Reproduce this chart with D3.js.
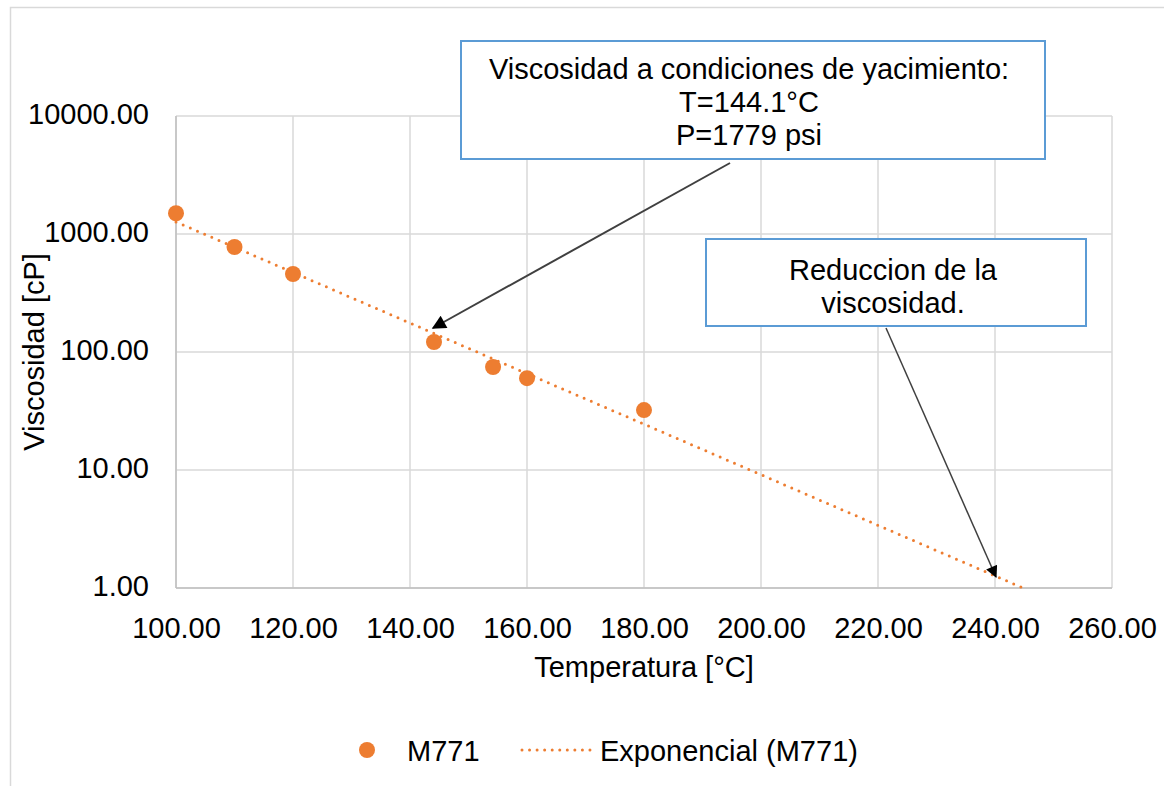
<!DOCTYPE html>
<html><head><meta charset="utf-8">
<script src="https://cdn.jsdelivr.net/npm/d3@7"></script>
<style>body{margin:0;background:#fff}svg{display:block;font-family:"Liberation Sans",Arial,sans-serif}</style>
</head><body><svg id="c" width="1164" height="786"></svg>
<script>
const temps = [100, 110, 120, 144.1, 154.2, 160, 180];
const viscosity = [1500, 776, 458, 121.5, 74.6, 60, 32.2];
const xTicks = [100, 120, 140, 160, 180, 200, 220, 240, 260];
const yTicks = [1, 10, 100, 1000, 10000];
const seriesName = "M771";
const trendName = "Exponencial (M771)";
const xTitle = "Temperatura [°C]";
const yTitle = "Viscosidad [cP]";
const note1 = ["Viscosidad a condiciones de yacimiento:", "T=144.1°C", "P=1779 psi"];
const note2 = ["Reduccion de la", "viscosidad."];

const FS = 29;
const svg = d3.select("#c");
const W = 1164, H = 786;
const m = {l:176, r:1112, t:116, b:588};
const x = d3.scaleLinear().domain([100,260]).range([m.l,m.r]);
const y = d3.scaleLog().domain([1,10000]).range([m.b,m.t]);
const orange = "#ed7d31";

svg.append("rect").attr("x",10.5).attr("y",7.5).attr("width",W+20).attr("height",H+20)
  .attr("fill","#fff").attr("stroke","#d9d9d9").attr("stroke-width",1.5);

// gridlines
const g = svg.append("g");
g.selectAll(".vg").data(xTicks).join("line")
  .attr("x1",d=>x(d)).attr("x2",d=>x(d)).attr("y1",m.t).attr("y2",m.b)
  .attr("stroke","#d9d9d9").attr("stroke-width",1.5);
g.selectAll(".hg").data(yTicks).join("line")
  .attr("x1",m.l).attr("x2",m.r).attr("y1",d=>y(d)).attr("y2",d=>y(d))
  .attr("stroke","#d9d9d9").attr("stroke-width",1.5);
svg.append("line").attr("x1",m.l).attr("x2",m.r).attr("y1",m.b).attr("y2",m.b).attr("stroke","#bfbfbf").attr("stroke-width",1.5);
svg.append("line").attr("x1",m.l).attr("x2",m.l).attr("y1",m.t).attr("y2",m.b).attr("stroke","#bfbfbf").attr("stroke-width",1.5);

// axes
const xAxis = svg.append("g").attr("transform",`translate(0,${m.b})`)
  .call(d3.axisBottom(x).tickValues(xTicks).tickFormat(d3.format(".2f")).tickSize(0).tickPadding(0));
xAxis.select(".domain").remove();
xAxis.selectAll("text").attr("font-size",FS).attr("fill","#000").attr("font-family","Liberation Sans, Arial, sans-serif").attr("y",50).attr("dy",null);
const yAxis = svg.append("g").attr("transform",`translate(${m.l},0)`)
  .call(d3.axisLeft(y).tickValues(yTicks).tickFormat(d3.format(".2f")).tickSize(0).tickPadding(27));
yAxis.select(".domain").remove();
yAxis.selectAll("text").attr("font-size",FS).attr("fill","#000").attr("font-family","Liberation Sans, Arial, sans-serif").attr("dy","0.26em");

// titles
svg.append("text").attr("x",(m.l+m.r)/2).attr("y",677).attr("text-anchor","middle").attr("font-size",FS).text(xTitle);
svg.append("text").attr("transform",`translate(44,${(m.t+m.b)/2}) rotate(-90)`).attr("text-anchor","middle").attr("font-size",FS).text(yTitle);

// exponential regression (least squares on ln y)
const lx = temps, ly = viscosity.map(Math.log);
const mx = d3.mean(lx), my = d3.mean(ly);
const b = d3.sum(lx.map((v,i)=>(v-mx)*(ly[i]-my))) / d3.sum(lx.map(v=>(v-mx)*(v-mx)));
const a = Math.exp(my - b*mx);
const xEnd = Math.log(1/a)/b;
const trend = d3.range(0,101).map(i=>{const t=100+(xEnd-100)*i/100; return [t, a*Math.exp(b*t)];});
svg.append("path").datum(trend)
  .attr("d",d3.line().x(d=>x(d[0])).y(d=>y(d[1])))
  .attr("fill","none").attr("stroke",orange).attr("stroke-width",3)
  .attr("stroke-dasharray","0 7.8").attr("stroke-linecap","round");

// points
svg.selectAll(".pt").data(temps).join("circle")
  .attr("cx",d=>x(d)).attr("cy",(d,i)=>y(viscosity[i])).attr("r",8).attr("fill",orange);

// arrows
const defs = svg.append("defs");
defs.append("marker").attr("id","ah1").attr("viewBox","0 0 10 10").attr("refX",9).attr("refY",5)
  .attr("markerWidth",16).attr("markerHeight",14).attr("markerUnits","userSpaceOnUse").attr("orient","auto")
  .append("path").attr("d","M0,0 L10,5 L0,10 z").attr("fill","#000");
defs.append("marker").attr("id","ah2").attr("viewBox","0 0 10 10").attr("refX",9).attr("refY",5)
  .attr("markerWidth",14).attr("markerHeight",12).attr("markerUnits","userSpaceOnUse").attr("orient","auto")
  .append("path").attr("d","M0,0 L10,5 L0,10 z").attr("fill","#000");
svg.append("line").attr("x1",730).attr("y1",163).attr("x2",433).attr("y2",328)
  .attr("stroke","#404040").attr("stroke-width",2).attr("marker-end","url(#ah1)");
svg.append("line").attr("x1",886).attr("y1",328).attr("x2",996).attr("y2",577)
  .attr("stroke","#404040").attr("stroke-width",1.5).attr("marker-end","url(#ah2)");

// note boxes
function box(x0,y0,w,h,lines,cx,y1,lh){
  svg.append("rect").attr("x",x0).attr("y",y0).attr("width",w).attr("height",h)
    .attr("fill","#fff").attr("stroke","#5b9bd5").attr("stroke-width",2);
  svg.append("g").selectAll("text").data(lines).join("text")
    .attr("x",cx).attr("y",(d,i)=>y1+i*lh).attr("text-anchor","middle").attr("font-size",FS).text(d=>d);
}
box(461,41,584,118,note1,749,79,33);
box(706,239,380,87,note2,893,280,33);

// legend
svg.append("circle").attr("cx",367).attr("cy",750).attr("r",8).attr("fill",orange);
svg.append("text").attr("x",407).attr("y",761).attr("font-size",FS).text(seriesName);
svg.append("line").attr("x1",522).attr("x2",590).attr("y1",750).attr("y2",750)
  .attr("stroke",orange).attr("stroke-width",3).attr("stroke-dasharray","0 7.55").attr("stroke-linecap","round");
svg.append("text").attr("x",600).attr("y",761).attr("font-size",FS).text(trendName);
</script></body></html>
